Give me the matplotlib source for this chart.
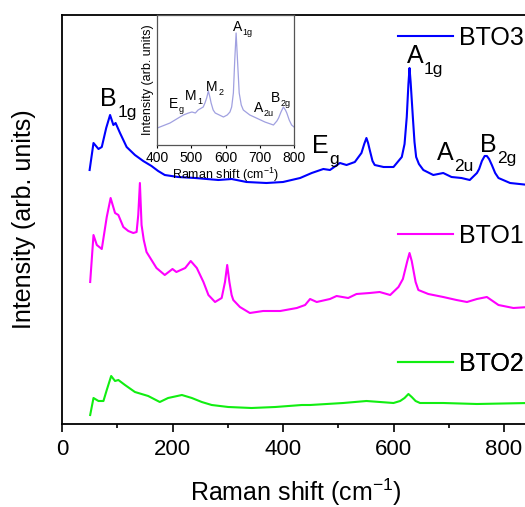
import matplotlib
matplotlib.use('Agg')
import matplotlib.pyplot as plt

plt.rcParams['font.family'] = ['Liberation Sans', 'DejaVu Sans']
plt.rcParams['mathtext.fontset'] = 'custom'
plt.rcParams['mathtext.rm'] = 'Liberation Sans'
plt.rcParams['mathtext.it'] = 'Liberation Sans:italic'
plt.rcParams['mathtext.bf'] = 'Liberation Sans:bold'

# spectra (arb. units, offset stacked)
bto3_x = [50, 57, 66, 72, 80, 87, 93, 97, 105, 117, 132, 147, 162, 174, 186, 210, 241, 283, 307, 334,
          370, 400, 431, 452, 473, 485, 503, 515, 530, 542, 547, 551, 554, 557, 562, 566, 582, 600, 615,
          620, 624, 627, 629, 631, 635, 638, 641, 646, 654, 672, 690, 705, 723, 738, 751, 755, 760, 765,
          769, 773, 778, 784, 790, 811, 845]
bto3_y = [254, 281, 275, 277, 296, 309, 299, 301, 291, 277, 269, 263, 258, 253, 249, 247, 246, 244, 245, 242,
          241, 242, 246, 251, 255, 254, 261, 259, 262, 271, 280, 286, 281, 274, 263, 259, 257, 257, 267,
          280, 307, 340, 356, 342, 307, 282, 267, 260, 254, 249, 251, 247, 246, 244, 251, 255, 263, 268,
          268, 265, 259, 251, 246, 241, 239]

bto1_x = [51, 57, 63, 72, 81, 88, 96, 102, 111, 120, 129, 135, 138, 141, 144, 148, 153, 162, 171, 186,
          200, 207, 223, 233, 244, 256, 265, 277, 289, 295, 299, 303, 307, 310, 322, 340, 364, 395, 425,
          440, 449, 461, 485, 497, 518, 533, 557, 575, 594, 609, 617, 621, 625, 629, 633, 636, 640, 645,
          663, 690, 714, 733, 751, 769, 790, 817, 845]
bto1_y = [142, 189, 179, 175, 207, 226, 211, 209, 197, 193, 191, 192, 209, 241, 199, 184, 172, 164, 156, 149,
          155, 152, 156, 163, 156, 142, 129, 122, 126, 142, 159, 142, 129, 124, 117, 111, 113, 113, 116,
          119, 125, 122, 125, 128, 126, 130, 131, 132, 129, 137, 145, 154, 163, 171, 163, 154, 142, 134,
          130, 127, 124, 122, 125, 127, 119, 116, 117]

bto2_x = [51, 57, 66, 75, 81, 89, 96, 102, 114, 132, 156, 177, 192, 217, 235, 253, 271, 301, 343, 386,
          434, 449, 509, 551, 600, 612, 620, 627, 633, 640, 648, 690, 751, 845]
bto2_y = [9, 26, 23, 23, 34, 48, 43, 44, 39, 32, 28, 22, 26, 29, 26, 22, 19, 17, 16, 17,
          19, 19, 21, 23, 21, 23, 26, 30, 27, 23, 21, 21, 20, 21]

# inset: BTO3 zoom 400-800
inset_x = [401, 438, 467, 477, 492, 502, 512, 520, 535, 540, 545, 550, 555, 558, 564, 570, 594, 605, 613,
           618, 623, 627, 631, 635, 640, 646, 652, 671, 690, 715, 740, 750, 755, 762, 769, 775, 779, 786,
           793, 800]
inset_y = [17, 22, 28, 30, 32, 33, 32, 35, 38, 42, 47, 54, 47, 42, 35, 32, 28, 30, 33,
           38, 52, 85, 112, 85, 52, 40, 35, 30, 27, 23, 20, 24, 27, 33, 38, 35, 32, 25,
           20, 18]

main_mode_base = ['B', 'E', 'A', 'A', 'B']
main_mode_sub = ['1g', 'g', '1g', '2u', '2g']
main_mode_pos = [(69, 318), (452, 271), (624, 361), (678, 264), (757, 272)]
inset_mode_base = ['E', 'M', 'M', 'A', 'A', 'B']
inset_mode_sub = ['g', '1', '2', '1g', '2u', '2g']
inset_mode_pos = [(435, 37), (482, 45), (543, 54), (621, 114), (683, 33), (733, 43)]


def mode_label(axis, x, y, base, sub, size, sub_size, drop):
    # subscript hung off the lower-right corner of the base letter
    t = axis.text(x, y, base, fontsize=size, ha='left', va='baseline')
    axis.annotate(sub, xy=(1, 0), xycoords=t, xytext=(0.5, -drop), textcoords='offset points',
                  fontsize=sub_size, ha='left', va='baseline')


W, H = 525, 507
fig = plt.figure(figsize=(W / 100, H / 100), dpi=100)

xmax = 845
px_per_unit = 0.5525
ax = fig.add_axes([62 / W, (H - 424) / H, xmax * px_per_unit / W, 409 / H])

l3, = ax.plot(bto3_x, bto3_y, color='#0000ff', lw=1.5)
l1, = ax.plot(bto1_x, bto1_y, color='#ff00ff', lw=1.5)
l2, = ax.plot(bto2_x, bto2_y, color='#11ee11', lw=1.5)

ax.set_xlim(0, xmax)
ax.set_ylim(0, 409)
ax.set_xticks([0, 200, 400, 600, 800])
ax.set_xticks([100, 300, 500, 700], minor=True)
ax.set_yticks([])
ax.tick_params(axis='x', which='major', direction='out', length=6, width=1.2, labelsize=16, pad=5)
ax.tick_params(axis='x', which='minor', direction='out', length=3, width=1.2)
for side in ['left', 'bottom', 'top']:
    ax.spines[side].set_linewidth(1.3)
ax.spines['right'].set_visible(False)
ax.set_xlabel(r'Raman shift (cm$^{-1}$)', fontsize=18, labelpad=12)
ax.set_ylabel('Intensity (arb. units)', fontsize=18, labelpad=19)

for b, s, (x, y) in zip(main_mode_base, main_mode_sub, main_mode_pos):
    mode_label(ax, x, y, b, s, 18, 12.5, 4.5)

# sample keys, each placed next to its own curve
key_x = 336 / (xmax * px_per_unit)
for line, name, ky in [(l3, 'BTO3', (424 - 38) / 409), (l1, 'BTO1', (424 - 236) / 409), (l2, 'BTO2', (424 - 364) / 409)]:
    leg = ax.legend([line], [name], loc='center left', bbox_to_anchor=(key_x, ky), frameon=False,
                    borderpad=0, borderaxespad=0, handlelength=2.2, handletextpad=0.25, fontsize=18)
    ax.add_artist(leg)

# inset
ins = fig.add_axes([157 / W, (H - 145) / H, 137 / W, 130 / H])
ins.plot(inset_x, inset_y, color='#a0a0e0', lw=0.9)
ins.set_xlim(400, 800)
ins.set_ylim(0, 130)
ins.set_xticks([400, 500, 600, 700, 800])
ins.set_yticks([])
ins.tick_params(axis='x', direction='out', length=2, width=0.8, labelsize=10, pad=2)
for s in ins.spines.values():
    s.set_linewidth(0.9)
    s.set_color('#555555')
ins.set_xlabel(r'Raman shift (cm$^{-1}$)', fontsize=9, labelpad=1)
ins.set_ylabel('Intensity (arb. units)', fontsize=9, labelpad=2)
for b, s, (x, y) in zip(inset_mode_base, inset_mode_sub, inset_mode_pos):
    mode_label(ins, x, y, b, s, 10, 6.5, 0.5)

fig.savefig('out.png', dpi=100)
